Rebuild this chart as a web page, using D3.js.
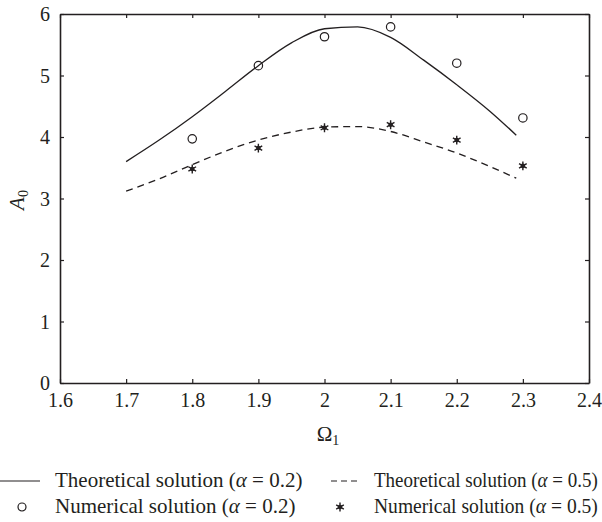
<!DOCTYPE html>
<html><head><meta charset="utf-8">
<script src="https://cdn.jsdelivr.net/npm/d3@7"></script>
<style>body{margin:0;background:#fff;overflow:hidden;} svg{display:block;} svg text{font-family:"Liberation Serif","Times New Roman",Times,"DejaVu Serif","Noto Serif",serif !important;fill:#231f20;}</style>
</head><body>
<svg id="chart" width="602" height="522"></svg>
<script>
const xTicks = [1.6, 1.7, 1.8, 1.9, 2.0, 2.1, 2.2, 2.3, 2.4];
const xTickLabels = ["1.6","1.7","1.8","1.9","2","2.1","2.2","2.3","2.4"];
const yTicks = [0,1,2,3,4,5,6];
const theoOmega = [1.70,1.75,1.80,1.85,1.90,1.95,2.00,2.05,2.10,2.15,2.20,2.25,2.29];
const theoA02 = [3.60,3.95,4.33,4.74,5.16,5.53,5.76,5.79,5.62,5.25,4.85,4.42,4.03];
const theoA0x = [3.12,3.32,3.55,3.77,3.95,4.08,4.16,4.17,4.09,3.92,3.74,3.52,3.33];
const numOmega = [1.8,1.9,2.0,2.1,2.2,2.3];
const numA02 = [3.97,5.16,5.63,5.79,5.20,4.31];
const numA0x = [3.48,3.82,4.15,4.20,3.95,3.53];
const legendLabels = ["Theoretical solution (\u03B1 = 0.2)","Theoretical solution (\u03B1 = 0.5)","Numerical solution (\u03B1 = 0.2)","Numerical solution (\u03B1 = 0.5)"];

const svg = d3.select("#chart");
const L=60, R=589, T=14, B=383;
const x = d3.scaleLinear().domain([1.6,2.4]).range([L,R]);
const y = d3.scaleLinear().domain([0,6]).range([B,T]);
const ink = "#231f20";
const FONT = "'Liberation Serif','Times New Roman',Times,'DejaVu Serif',serif";

// axes
const gB = svg.append("g").attr("transform",`translate(0,${B})`)
  .call(d3.axisBottom(x).tickValues(xTicks).tickFormat((d,i)=>xTickLabels[i]).tickSizeInner(-4).tickSizeOuter(0).tickPadding(10));
const gT = svg.append("g").attr("transform",`translate(0,${T})`)
  .call(d3.axisTop(x).tickValues(xTicks).tickFormat("").tickSizeInner(-4).tickSizeOuter(0));
const gL = svg.append("g").attr("transform",`translate(${L},0)`)
  .call(d3.axisLeft(y).tickValues(yTicks).tickFormat(d3.format("d")).tickSizeInner(-4).tickSizeOuter(0).tickPadding(10));
const gR = svg.append("g").attr("transform",`translate(${R},0)`)
  .call(d3.axisRight(y).tickValues(yTicks).tickFormat("").tickSizeInner(-4).tickSizeOuter(0));
[gB,gT,gL,gR].forEach(g=>{
  g.attr("font-family",FONT);
  g.select(".domain").attr("stroke",ink).attr("stroke-width",1.6);
  g.selectAll(".tick line").attr("stroke",ink).attr("stroke-width",1.2);
  g.selectAll(".tick text").attr("font-size",20).attr("fill",ink);
});
gB.selectAll(".tick text").attr("dy","0.72em");
gL.selectAll(".tick text").attr("dy","0.33em");

// curves
const line = d3.line().x(d=>x(d[0])).y(d=>y(d[1])).curve(d3.curveMonotoneX);
svg.append("path").datum(theoOmega.map((o,i)=>[o,theoA02[i]]))
  .attr("d",line).attr("fill","none").attr("stroke",ink).attr("stroke-width",1.3);
svg.append("path").datum(theoOmega.map((o,i)=>[o,theoA0x[i]]))
  .attr("d",line).attr("fill","none").attr("stroke",ink).attr("stroke-width",1.3).attr("stroke-dasharray","7,5");

// markers
function star(g, cx, cy){
  g.append("path").attr("transform",`translate(${cx},${cy})`)
    .attr("d",d3.symbol(d3.symbolAsterisk,55)()).attr("stroke",ink).attr("stroke-width",1.4).attr("fill","none");
  g.append("circle").attr("cx",cx).attr("cy",cy).attr("r",2.3).attr("fill",ink);
}
svg.append("g").selectAll("circle").data(numOmega.map((o,i)=>[o,numA02[i]])).join("circle")
  .attr("cx",d=>x(d[0])).attr("cy",d=>y(d[1])).attr("r",4.2).attr("fill","none").attr("stroke",ink).attr("stroke-width",1.2);
const sg = svg.append("g");
numOmega.forEach((o,i)=>star(sg, x(o), y(numA0x[i])));

// axis titles
const xt = svg.append("text").attr("x",324).attr("y",441).attr("font-size",21).attr("text-anchor","start").attr("font-family",FONT);
xt.append("tspan").text("\u03A9");
xt.append("tspan").attr("font-size",14).attr("dy",4).text("1");
xt.attr("x", 328 - xt.node().getComputedTextLength()/2);
const yt = svg.append("text").attr("transform","translate(24,200) rotate(-90)").attr("font-size",21).attr("text-anchor","middle").attr("font-family",FONT);
yt.append("tspan").attr("font-style","italic").text("A");
yt.append("tspan").attr("font-size",14).attr("dy",4).text("0");

// legend
const lg = svg.append("g").attr("font-family",FONT);
const row1 = 487, row2 = 513;
lg.append("line").attr("x1",0).attr("x2",40).attr("y1",row1-6).attr("y2",row1-6).attr("stroke",ink).attr("stroke-width",1.2);
lg.append("line").attr("x1",331).attr("x2",359).attr("y1",row1-6).attr("y2",row1-6).attr("stroke",ink).attr("stroke-width",1.2).attr("stroke-dasharray","6,4");
lg.append("circle").attr("cx",22).attr("cy",row2-6).attr("r",4).attr("fill","none").attr("stroke",ink).attr("stroke-width",1.2);
star(lg, 340, row2-6);
function legText(xp, yp, label, maxW){
  const t = lg.append("text").attr("x",xp).attr("y",yp).attr("font-size",21);
  const parts = label.split("\u03B1");
  t.append("tspan").text(parts[0]);
  t.append("tspan").attr("font-style","italic").text("\u03B1");
  t.append("tspan").text(parts[1]);
  if (maxW) {
    const w = t.node().getComputedTextLength();
    if (w > maxW) {
      const s = maxW / w;
      t.attr("transform", `translate(${xp},0) scale(${s},1) translate(${-xp},0)`);
    }
  }
}
legText(55,row1,legendLabels[0]);
legText(374,row1,legendLabels[1],224);
legText(55,row2,legendLabels[2]);
legText(374,row2,legendLabels[3],224);
</script>
</body></html>
